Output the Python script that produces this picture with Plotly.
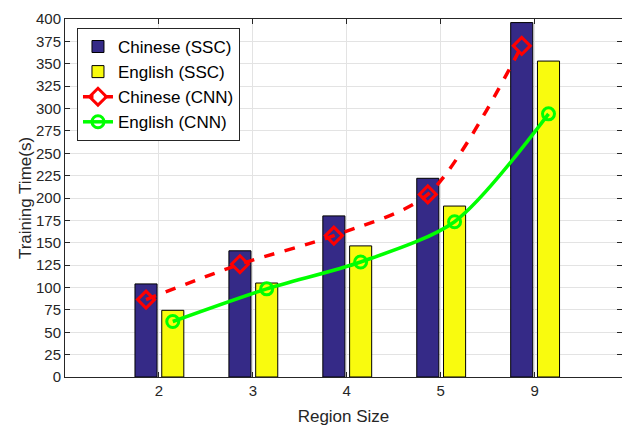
import plotly.graph_objects as go

# Region sizes (categories) and training times in seconds
region_sizes = ["2", "3", "4", "5", "9"]
chinese_ssc = [104, 141, 180, 222, 396]
english_ssc = [74.5, 105, 146.5, 191, 353]
chinese_cnn = [86.5, 126, 158, 204, 370]
english_cnn = [62, 98.5, 128.5, 173.5, 294]

idx = list(range(1, len(region_sizes) + 1))
bar_w = 0.235
off_cn = -0.255
off_en = 0.03

FONT = "Liberation Sans, Arial, Helvetica, sans-serif"
TXT = "#262626"

fig = go.Figure()
fig.add_trace(go.Bar(
    x=idx, y=chinese_ssc, width=bar_w, offset=off_cn,
    name="Chinese (SSC)",
    marker=dict(color="#352A87", line=dict(color="#000000", width=1)),
))
fig.add_trace(go.Bar(
    x=idx, y=english_ssc, width=bar_w, offset=off_en,
    name="English (SSC)",
    marker=dict(color="#F9FB0E", line=dict(color="#000000", width=1)),
))
fig.add_trace(go.Scatter(
    x=[i + off_cn + bar_w / 2 for i in idx], y=chinese_cnn,
    name="Chinese (CNN)", mode="lines+markers",
    line=dict(color="#FF0000", width=3.5, dash="dash", shape="spline", smoothing=0.8),
    marker=dict(symbol="diamond-open", size=13, color="#FF0000", line=dict(width=3)),
))
fig.add_trace(go.Scatter(
    x=[i + off_en + bar_w / 2 for i in idx], y=english_cnn,
    name="English (CNN)", mode="lines+markers",
    line=dict(color="#00FF00", width=3.5, shape="spline", smoothing=0.8),
    marker=dict(symbol="circle-open", size=12, color="#00FF00", line=dict(width=3)),
))

fig.update_layout(
    width=622, height=427,
    margin=dict(l=65, r=0, t=19, b=50),
    paper_bgcolor="white", plot_bgcolor="white",
    barmode="overlay",
    font=dict(family=FONT, color=TXT, size=15),
    legend=dict(
        x=0.0215, y=0.975, xanchor="left", yanchor="top",
        bgcolor="white", bordercolor=TXT, borderwidth=1,
        font=dict(family=FONT, size=17, color="#000000"),
        tracegroupgap=0, itemwidth=30,
    ),
    showlegend=True,
)
fig.update_xaxes(
    range=[0, 5.93], tickvals=idx, ticktext=region_sizes,
    showgrid=True, gridcolor="#E3E3E3", gridwidth=1,
    showline=True, linecolor=TXT, linewidth=1, mirror="ticks",
    ticks="inside", ticklen=5, tickcolor=TXT,
    tickfont=dict(size=15, color=TXT),
    title=dict(text="Region Size", font=dict(size=17, color=TXT), standoff=12),
    zeroline=False,
)
fig.update_yaxes(
    range=[0, 400], tickvals=list(range(0, 401, 25)),
    showgrid=True, gridcolor="#E3E3E3", gridwidth=1,
    showline=True, linecolor=TXT, linewidth=1, mirror="ticks",
    ticks="inside", ticklen=5, tickcolor=TXT,
    tickfont=dict(size=15, color=TXT),
    title=dict(text="Training Time(s)", font=dict(size=17, color=TXT), standoff=0),
    zeroline=False,
)

fig.write_html("out.html")
